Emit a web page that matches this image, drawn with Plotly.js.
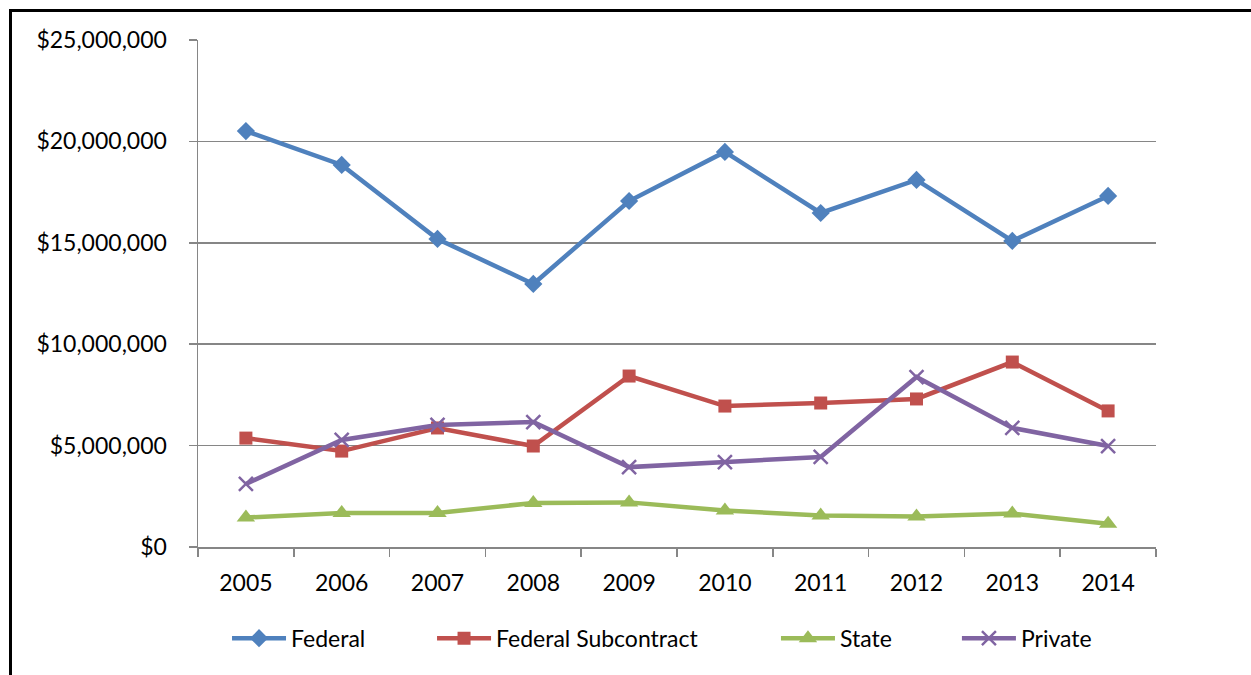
<!DOCTYPE html>
<html>
<head>
<meta charset="utf-8">
<script src="https://cdn.plot.ly/plotly-3.0.1.min.js"></script>
<style>
  html, body { margin: 0; padding: 0; background: #fff; }
  #wrap { position: relative; width: 1251px; height: 675px; overflow: hidden; }
  #frame { position: absolute; left: 9px; top: 9px; width: 1300px; height: 700px;
           border-left: 3px solid #000; border-top: 3px solid #000; box-sizing: border-box; pointer-events: none; z-index: 5; }
  #chart { position: absolute; left: 0; top: 0; width: 1251px; height: 675px; }
</style>
</head>
<body>
<div id="wrap">
  <div id="chart"></div>
  <div id="frame"></div>
</div>
<script>
const years = ["2005","2006","2007","2008","2009","2010","2011","2012","2013","2014"];
const federal = [20510000, 18840000, 15190000, 12970000, 17060000, 19480000, 16470000, 18100000, 15090000, 17310000];
const federalSubcontract = [5370000, 4730000, 5870000, 4980000, 8430000, 6950000, 7100000, 7300000, 9120000, 6710000];
const state = [1450000, 1680000, 1680000, 2170000, 2200000, 1800000, 1550000, 1500000, 1650000, 1150000];
const privateFunds = [3110000, 5280000, 6020000, 6160000, 3940000, 4190000, 4440000, 8380000, 5870000, 4980000];
const yTicks = [0, 5000000, 10000000, 15000000, 20000000, 25000000];

const FONT = "Lato, 'Open Sans', sans-serif";
const FS = 23;

function series(name, y, color, symbol, size, legendId) {
  return {
    type: "scatter", mode: "lines+markers", name: name, x: years, y: y,
    legend: legendId,
    line: { color: color, width: 4.5 },
    marker: { color: color, symbol: symbol, size: size, line: { color: color, width: symbol === "x-thin" ? 2.5 : 0 } }
  };
}

const data = [
  series("Federal", federal, "#4F81BD", "diamond", 14, "legend"),
  series("Federal Subcontract", federalSubcontract, "#C0504D", "square", 13, "legend2"),
  series("State", state, "#9BBB59", "triangle-up", 16, "legend3"),
  series("Private", privateFunds, "#8064A2", "x-thin", 14, "legend4")
];

function leg(x) {
  return {
    orientation: "h", x: x, xanchor: "left", y: -0.18, yanchor: "middle",
    font: { family: FONT, size: FS, color: "#000" },
    itemwidth: 54, bgcolor: "rgba(0,0,0,0)"
  };
}

const layout = {
  width: 1251, height: 675,
  margin: { l: 198, r: 95, t: 40, b: 128 },
  paper_bgcolor: "#fff", plot_bgcolor: "#fff",
  font: { family: FONT, size: FS, color: "#000" },
  showlegend: true,
  legend: leg(0.0303),
  legend2: leg(0.2443),
  legend3: leg(0.6033),
  legend4: leg(0.7922),
  xaxis: {
    type: "category", range: [-0.5, 9.5], showline: true, linecolor: "#868686", linewidth: 1.5,
    ticks: "outside", ticklen: 8, tickcolor: "#868686", tickwidth: 1.5,
    tickson: "boundaries", showgrid: false, zeroline: false,
    ticklabelstandoff: 15,
    tickfont: { family: FONT, size: FS, color: "#000" }
  },
  yaxis: {
    range: [0, 25000000], tickvals: yTicks, tickformat: "$,.0f",
    showline: true, linecolor: "#868686", linewidth: 1.5,
    ticks: "outside", ticklen: 8, tickcolor: "#868686", tickwidth: 1.5,
    showgrid: true, gridcolor: "#868686", gridwidth: 1.5, zeroline: false,
    ticklabelstandoff: 17,
    tickfont: { family: FONT, size: FS, color: "#000" }
  }
};

Plotly.newPlot("chart", data, layout, { displayModeBar: false, staticPlot: true });
</script>
</body>
</html>
